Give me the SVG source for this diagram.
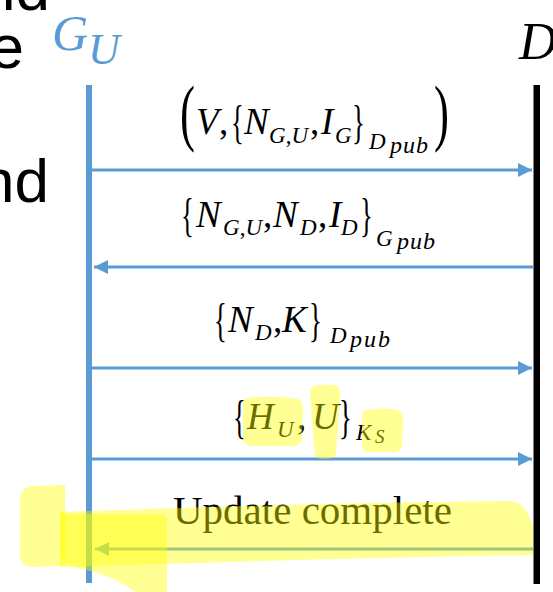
<svg xmlns="http://www.w3.org/2000/svg" width="553" height="592" viewBox="0 0 553 592">
<style>
.side{font-family:"Liberation Sans",Arial,sans-serif;font-size:62px;fill:#000}
.m{font-family:"Liberation Serif","Times New Roman",serif;font-size:37px;font-style:italic;fill:#000}
.s{font-size:23px}
.pp{font-size:24px}
.up{font-style:normal}
.br{font-family:"Liberation Serif","Times New Roman",serif;font-size:46px;fill:#000}
.pa{font-family:"Liberation Serif","Times New Roman",serif;font-size:75px;fill:#000}
.actor{font-family:"Liberation Serif","Times New Roman",serif;font-style:italic}
.plain{font-family:"Liberation Serif","Times New Roman",serif;font-size:41px;fill:#000}
.msg{stroke:#5b9bd5;stroke-width:3;fill:none}
.hl{fill:#ffff00;fill-opacity:0.42}
</style>
<defs>
<marker id="ah" markerUnits="userSpaceOnUse" markerWidth="14" markerHeight="14" refX="14" refY="7" orient="auto">
<path d="M0,0 L14,7 L0,14 Z" fill="#5b9bd5"/>
</marker>
</defs>
<rect width="553" height="592" fill="#ffffff"/>
<g id="side-text">
<text class="side" x="50" y="10" text-anchor="end">nd</text>
<text class="side" x="24" y="68" text-anchor="end">e</text>
<text class="side" x="49" y="202" text-anchor="end">nd</text>
</g>
<g id="GU">
<text class="actor" fill="#5b9bd5"><tspan x="52" y="50" font-size="50">G</tspan><tspan x="88" y="64" font-size="44">U</tspan></text>
<rect x="86" y="85" width="6" height="498" fill="#5b9bd5"/>
</g>
<g id="D">
<text class="actor" x="519" y="59" font-size="52" fill="#000">D</text>
<rect x="533.5" y="85" width="6.5" height="499" fill="#000"/>
</g>
<g id="connectors">
<line class="msg" x1="92" y1="170" x2="532" y2="170" marker-end="url(#ah)"/>
<line class="msg" x1="533.5" y1="267" x2="94" y2="267" marker-end="url(#ah)"/>
<line class="msg" x1="92" y1="368" x2="532" y2="368" marker-end="url(#ah)"/>
<line class="msg" x1="92" y1="459" x2="532" y2="459" marker-end="url(#ah)"/>
<line class="msg" x1="533.5" y1="549" x2="95" y2="549" marker-end="url(#ah)"/>
</g>
<g id="labels">
<g id="label1">
<text class="pa" transform="translate(180,137) scale(0.6,1)">(</text>
<text class="pa" transform="translate(434,137) scale(0.6,1)">)</text>
<text class="br" transform="translate(231,138) scale(0.58,1)">{</text>
<text class="br" transform="translate(352,138) scale(0.58,1)">}</text>
<text class="m"><tspan x="196" y="134">V</tspan><tspan class="up" x="219" y="134">,</tspan><tspan x="244" y="134">N</tspan><tspan class="s" x="269" y="143">G<tspan class="up">,</tspan>U</tspan><tspan class="up" x="310" y="134">,</tspan><tspan x="321" y="134">I</tspan><tspan class="s" x="335" y="143">G</tspan><tspan class="s" x="369" y="149">D</tspan><tspan class="pp" x="390" y="153" textLength="38">pub</tspan></text>
</g>
<g id="label2">
<text class="br" transform="translate(181,231) scale(0.58,1)">{</text>
<text class="br" transform="translate(360,231) scale(0.58,1)">}</text>
<text class="m"><tspan x="196" y="227">N</tspan><tspan class="s" x="223" y="235">G<tspan class="up">,</tspan>U</tspan><tspan class="up" x="263" y="227">,</tspan><tspan x="273" y="227">N</tspan><tspan class="s" x="300" y="235">D</tspan><tspan class="up" x="318" y="227">,</tspan><tspan x="329" y="227">I</tspan><tspan class="s" x="341" y="235">D</tspan><tspan class="s" x="376" y="246">G</tspan><tspan class="pp" x="397" y="249" textLength="38">pub</tspan></text>
</g>
<g id="label3">
<text class="br" transform="translate(214,336) scale(0.58,1)">{</text>
<text class="br" transform="translate(309,336) scale(0.58,1)">}</text>
<text class="m"><tspan x="228" y="332">N</tspan><tspan class="s" x="255" y="340">D</tspan><tspan class="up" x="273" y="332">,</tspan><tspan x="282" y="332">K</tspan><tspan class="s" x="330" y="343">D</tspan><tspan class="pp" x="350" y="347" textLength="40">pub</tspan></text>
</g>
<g id="label4">
<text class="br" transform="translate(233,433) scale(0.58,1)">{</text>
<text class="br" transform="translate(339,433) scale(0.58,1)">}</text>
<text class="m"><tspan x="247" y="429">H</tspan><tspan class="s" x="277" y="437">U</tspan><tspan class="up" x="297" y="429">,</tspan><tspan x="312" y="429">U</tspan><tspan class="s" x="356" y="440">K</tspan><tspan font-size="19" x="375" y="443">S</tspan></text>
</g>
<text class="plain" x="173" y="524">Update complete</text>
</g>
<g id="highlights">
<path class="hl" d="M248,398 Q270,395 298,399 Q303,401 303,410 L302,440 Q300,446 292,446 L252,446 Q243,446 243,438 L243,405 Q243,398 248,398 Z"/>
<path class="hl" d="M314,386 Q326,383 337,386 Q341,388 340,396 L336,455 Q334,459 324,459 Q316,459 315,455 L310,395 Q310,387 314,386 Z"/>
<path class="hl" d="M366,410 Q385,407 398,410 Q403,412 403,420 L402,446 Q401,452 394,452 L368,452 Q362,452 362,446 L362,416 Q362,411 366,410 Z"/>
<path class="hl" d="M20,500 Q20,486 36,486 L65,485 L65,566 L34,567 Q20,567 20,555 Z"/>
<path class="hl" d="M60,512 C200,507 380,502 512,501 Q528,504 533,528 L533,555 C400,557 220,562 60,567 Z"/>
<path class="hl" d="M60,514 L160,514 Q167,514 167,522 L167,592 L136,592 Q110,574 78,568 Q60,565 60,552 Z"/>
</g>
</svg>
